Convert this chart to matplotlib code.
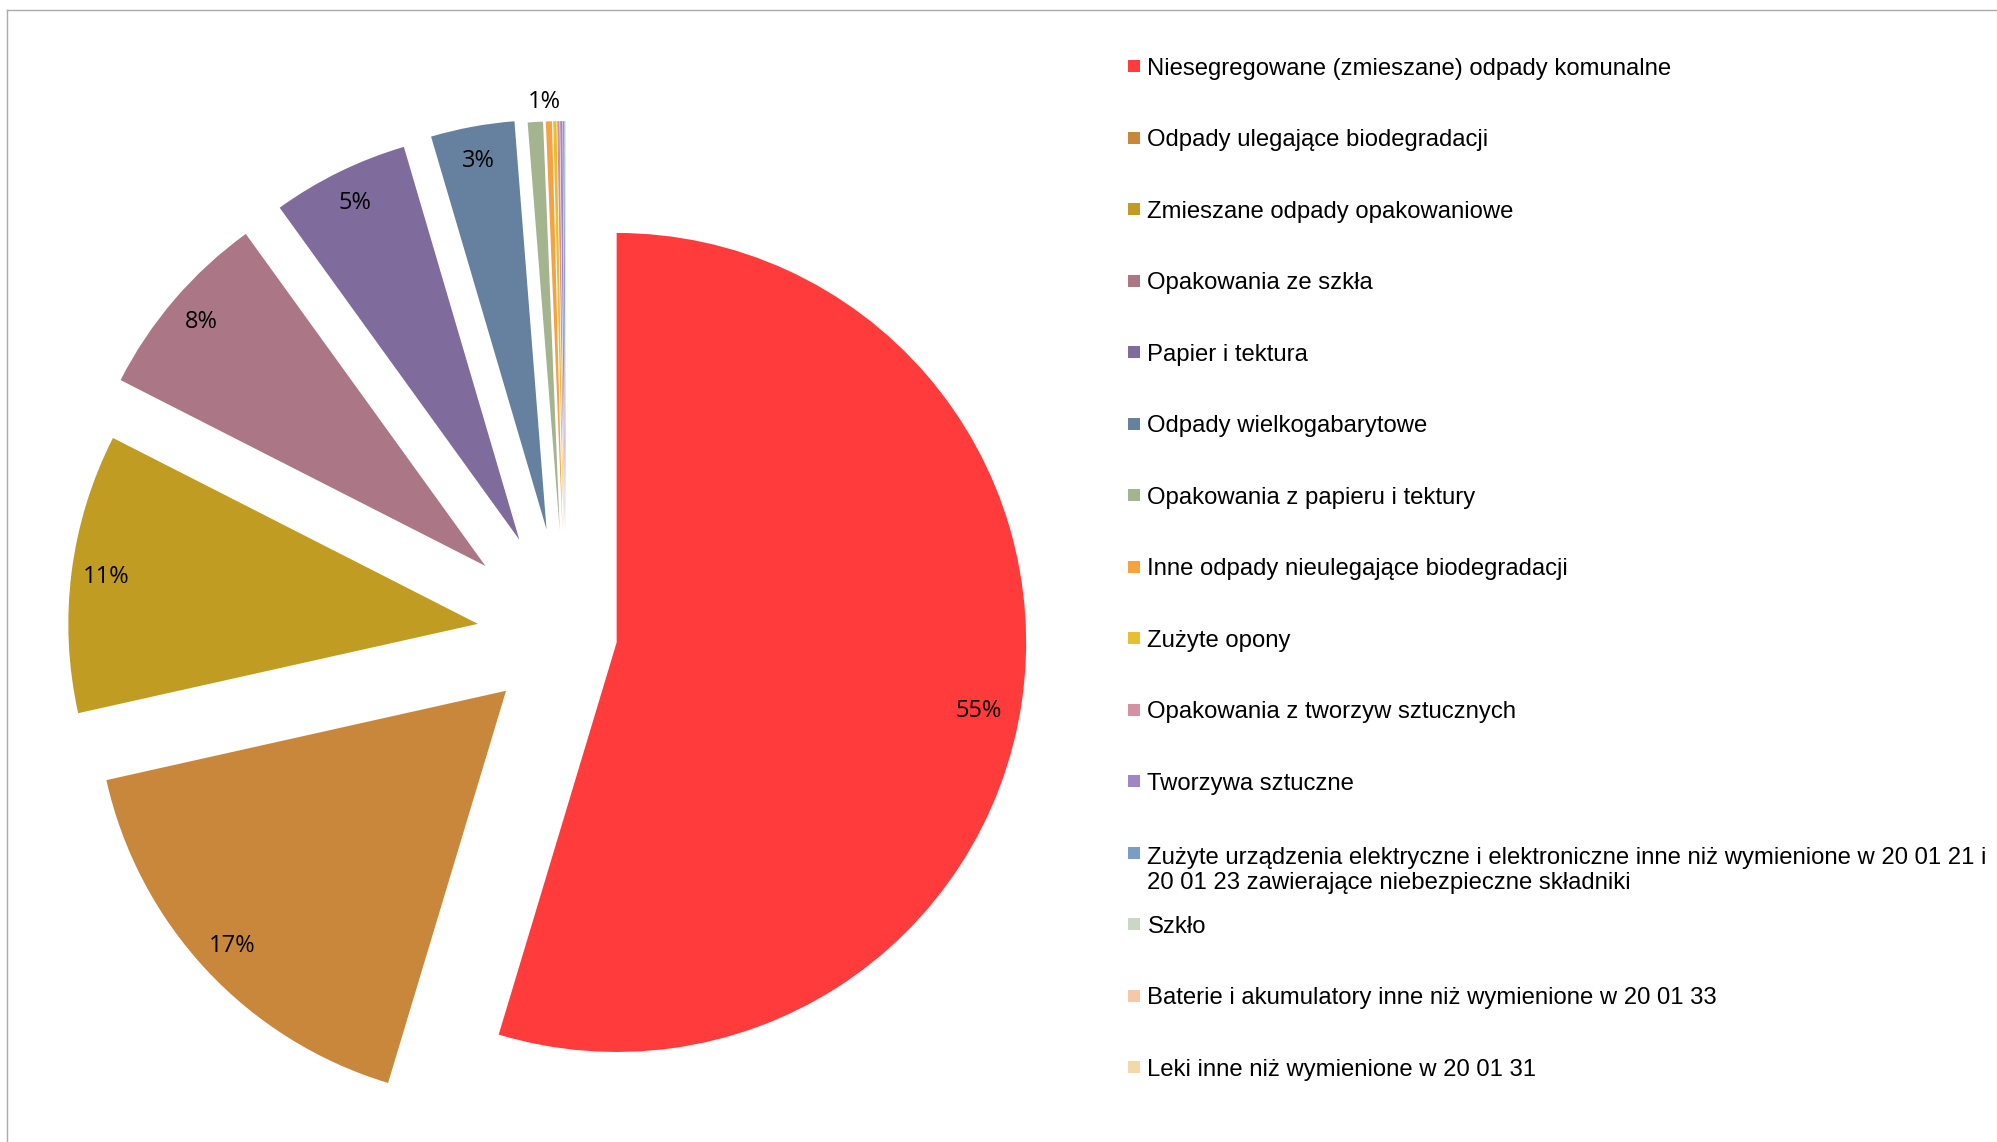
import numpy as np
import matplotlib
matplotlib.use("Agg")
import matplotlib.pyplot as plt
import matplotlib.patches as mpatches

# shares of municipal waste streams (percent)
categories = [
    "Niesegregowane (zmieszane) odpady komunalne",
    "Odpady ulegające biodegradacji",
    "Zmieszane odpady opakowaniowe",
    "Opakowania ze szkła",
    "Papier i tektura",
    "Odpady wielkogabarytowe",
    "Opakowania z papieru i tektury",
    "Inne odpady nieulegające biodegradacji",
    "Zużyte opony",
    "Opakowania z tworzyw sztucznych",
    "Tworzywa sztuczne",
    "Zużyte urządzenia elektryczne i elektroniczne inne niż wymienione w 20 01 21 i\n20 01 23 zawierające niebezpieczne składniki",
    "Szkło",
    "Baterie i akumulatory inne niż wymienione w 20 01 33",
    "Leki inne niż wymienione w 20 01 31",
]
shares = [54.65, 16.85, 11.0, 7.55, 5.4, 3.3, 0.6, 0.24, 0.13, 0.09, 0.09, 0.06, 0.02, 0.01, 0.01]

colors = ["#FF3B3B", "#C8873B", "#C09C22", "#AB7787", "#7F6B9C", "#66819F",
          "#A3B48F", "#F5A243", "#E8BF2C", "#D590A3", "#9F87C1", "#7B9DC5",
          "#CCD6C4", "#F6C8A6", "#F2DAA8"]
# how far each slice is pulled out, as a fraction of the radius
explode_frac = [0.125, 0.20, 0.217, 0.259, 0.259, 0.262] + [0.255] * 9

W, H = 1997, 1142
fig = plt.figure(figsize=(W / 100, H / 100), dpi=100)
ax = fig.add_axes([0, 0, 1, 1])

cx, cy, R = 566, H - 635, 409.5


def pct_label(p):
    return "%.0f%%" % p if p >= 0.5 else ""


wedges, texts, autotexts = ax.pie(
    shares, colors=colors, explode=[e * R for e in explode_frac], startangle=90,
    counterclock=False, center=(cx, cy), radius=R, autopct=pct_label, pctdistance=0.915,
    wedgeprops=dict(linewidth=0), textprops=dict(fontsize=17, family="Open Sans", color="black"),
)


def place(i, dist, dang=0.0, dx=0.0):
    w = wedges[i]
    a = np.deg2rad((w.theta1 + w.theta2) / 2 + dang)
    autotexts[i].set_position((w.center[0] + dist * R * np.cos(a) + dx,
                               w.center[1] + dist * R * np.sin(a)))


place(0, 0.90, -2.3)      # 55% sits a bit below the bisector
place(6, 1.05, 0, 10)     # the 1% label sits just outside its slice

ax.set_xlim(0, W)
ax.set_ylim(0, H)
ax.set_aspect("equal")
ax.axis("off")

# legend, drawn row by row like the spreadsheet one
row0, step = 66.2, 71.5
for i, (lab, col) in enumerate(zip(categories, colors)):
    ys = row0 + i * step
    ax.add_patch(mpatches.Rectangle((1128.5, H - ys - 6), 12, 12, facecolor=col, edgecolor="none"))
    nlines = lab.count("\n")
    ax.text(1147.5, H - (ys + 8.5) - nlines * 28, lab, fontsize=17.2, family="Liberation Sans",
            va="baseline", ha="left", linespacing=1.18, color="black")

# chart area border (top and left edges visible)
ax.plot([7.5, W], [H - 9.5, H - 9.5], color="#ABABAB", lw=1.0, clip_on=False)
ax.plot([7.5, 7.5], [H - 9.5, 0], color="#ABABAB", lw=1.0, clip_on=False)

fig.savefig("out.png", dpi=100)
